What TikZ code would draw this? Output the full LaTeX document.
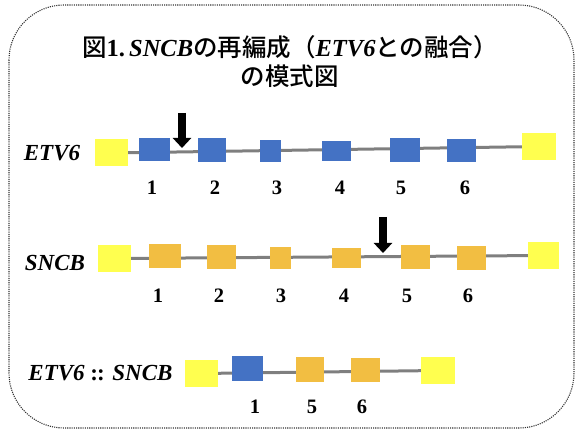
\documentclass[tikz,border=0pt]{standalone}
\usepackage{fontspec}
\setmainfont{Liberation Serif}
\newfontfamily\jpfont[BoldFont={Noto Sans CJK JP Medium}]{Noto Sans CJK JP}
\usetikzlibrary{arrows.meta,positioning,backgrounds}
\definecolor{exonblue}{HTML}{4472C4}
\definecolor{exongold}{HTML}{F2BE42}
\definecolor{utryellow}{HTML}{FFFF4F}
\definecolor{introngray}{HTML}{7F7F7F}

\begin{document}
\begin{tikzpicture}[x=1pt, y=-1pt,
    utr/.style={fill=utryellow, minimum width=33pt, minimum height=27pt, inner sep=0pt},
    ex/.style={minimum height=23pt, inner sep=0pt},
    etv/.style={ex, fill=exonblue},
    snc/.style={ex, fill=exongold},
    num/.style={font=\fontsize{20.5}{21}\selectfont\bfseries},
    gene/.style={font=\fontsize{23}{24}\selectfont\bfseries\itshape},
    title/.style={align=center, font=\fontsize{24.5}{28.5}\selectfont\bfseries},
    intron/.style={line width=3pt, introngray},
    brk/.style={-{Triangle[length=10pt, width=18pt]}, line width=8pt},
    frame/.style={draw=black!80, line width=1.1pt, dash pattern=on 1.1pt off 1.1pt,
      rounded corners=55pt}
  ]
    \useasboundingbox (0,0) rectangle (579,435);
    \draw[frame] (9,5) rectangle (574,428);
    \node[title] (ttl) at (290,61.5) {{\jpfont 図}1.\,\textit{SNCB}{\jpfont の再編成（}\textit{ETV6}{\jpfont との融合）}\\{\jpfont の模式図}};
    % ETV6
    \node[gene] (etvlbl) at (52,153) {ETV6};
    \node[utr] (eu5) at (111,153) {};
    \node[etv, minimum width=31pt] (e1) at (154.5,149.5) {};
    \node[etv, minimum width=28pt, minimum height=24pt] (e2) at (212,150) {};
    \node[etv, minimum width=21pt, minimum height=22pt] (e3) at (270.5,151) {};
    \node[etv, minimum width=29pt, minimum height=20pt] (e4) at (336.5,151) {};
    \node[etv, minimum width=30pt, minimum height=24pt] (e5) at (405,150) {};
    \node[etv, minimum width=29pt] (e6) at (461.5,150.5) {};
    \node[utr, minimum width=34pt] (eu3) at (539,146.5) {};
    \node[num] (en1) at (152,188) {1};
    \node[num] (en2) at (215,188) {2};
    \node[num] (en3) at (277,188) {3};
    \node[num] (en4) at (340,188) {4};
    \node[num] (en5) at (401,188) {5};
    \node[num] (en6) at (465,188) {6};
    \coordinate (ebrktop) at (182,113);
    \coordinate (ebrk) at (182,148);
    \draw[brk] (ebrktop) -- (ebrk);
    % SNCB
    \node[gene] (snclbl) at (55,263) {SNCB};
    \node[utr] (su5) at (114.5,258.5) {};
    \node[snc, minimum width=32pt, minimum height=24pt] (s1) at (165,256) {};
    \node[snc, minimum width=29pt, minimum height=24pt] (s2) at (221.5,257) {};
    \node[snc, minimum width=21pt, minimum height=22pt] (s3) at (280.5,258) {};
    \node[snc, minimum width=29pt, minimum height=20pt] (s4) at (346.5,258) {};
    \node[snc, minimum width=29pt, minimum height=24pt] (s5) at (415.5,257) {};
    \node[snc, minimum width=29pt, minimum height=24pt] (s6) at (471.5,258) {};
    \node[utr, minimum width=31pt] (su3) at (543.5,255.5) {};
    \node[num] (sn1) at (158,296) {1};
    \node[num] (sn2) at (219,296) {2};
    \node[num] (sn3) at (281,296) {3};
    \node[num] (sn4) at (344,296) {4};
    \node[num] (sn5) at (407,296) {5};
    \node[num] (sn6) at (468,296) {6};
    \coordinate (sbrktop) at (383,217);
    \coordinate (sbrk) at (383,253);
    \draw[brk] (sbrktop) -- (sbrk);
    % fusion
    \node[gene] (fuslbl) at (100.5,373) {ETV6 {\upshape:\kern-1pt:} SNCB};
    \node[utr] (fu5) at (201.5,373.5) {};
    \node[etv, minimum width=31pt, minimum height=25pt] (f1) at (247.5,368.5) {};
    \node[snc, minimum width=28pt, minimum height=25pt] (f5) at (310,369.5) {};
    \node[snc, minimum width=29pt, minimum height=24pt] (f6) at (365.5,370) {};
    \node[utr, minimum width=34pt] (fu3) at (438,370.5) {};
    \node[num] (fn1) at (255,407) {1};
    \node[num] (fn5) at (312,407) {5};
    \node[num] (fn6) at (362,407) {6};
    \begin{scope}[on background layer]
      \draw[intron] (eu5) -- (eu3);
      \draw[intron] (su5) -- (su3);
      \draw[intron] (fu5) -- (fu3);
    \end{scope}
  \end{tikzpicture}
\end{document}
